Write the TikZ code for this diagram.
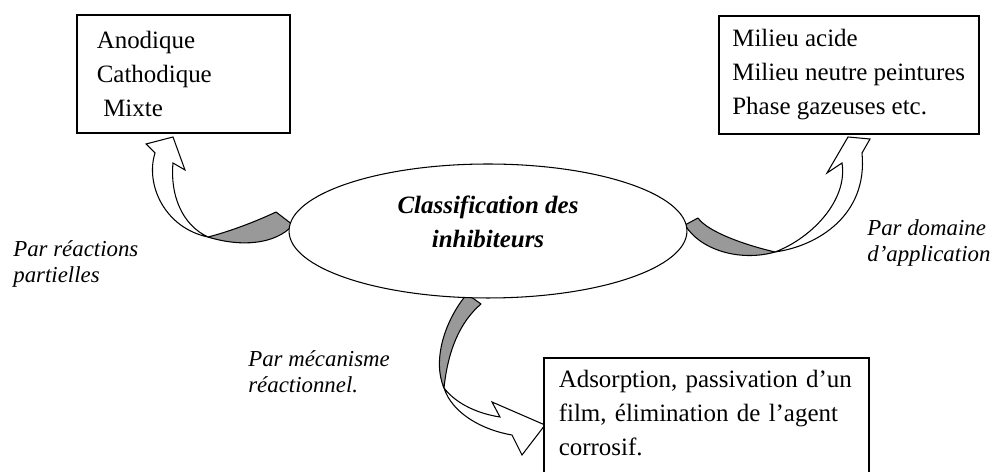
\documentclass[tikz,border=0pt]{standalone}
\usepackage{fontspec}
\setmainfont{Liberation Serif}
\usepackage{xcolor}
\definecolor{ribbonBack}{HTML}{999999}
\definecolor{ribbonFront}{HTML}{FFFFFF}
\usetikzlibrary{shapes.geometric}
\tikzset{
  frameBox/.style={draw, line width=0.9pt, fill=white, inner ysep=0pt, align=left,
    font=\fontsize{14.2}{19.3}\selectfont},
  sideLabel/.style={inner sep=0pt, anchor=base west, align=left,
    font=\itshape\fontsize{13}{15.3}\selectfont},
  backPart/.style={fill=ribbonBack, draw=black, line width=0.6pt, line join=round},
  frontPart/.style={fill=ribbonFront, draw=black, line width=0.6pt},
}

\begin{document}
\begin{tikzpicture}[x=0.02cm, y=-0.02cm]
  \useasboundingbox (0,0) rectangle (992,472);
  \clip (0,0) rectangle (992,472);
  % left arrow
  \filldraw[backPart] (208,237) .. controls (240,247) and (275,245) .. (293,225) -- (276,212) .. controls (255,222) and (228,232) .. cycle;
  \filldraw[frontPart] (155,153) -- (146,144) -- (173,137) -- (185,170) -- (173,163) .. controls (170,195) and (182,225) .. (208,237) .. controls (165,228) and (145,185) .. cycle;
  % right arrow
  \filldraw[backPart] (685,225) .. controls (700,250) and (740,262) .. (775,252) .. controls (745,245) and (708,232) .. (698,218) -- cycle;
  \filldraw[frontPart] (862,153) -- (870,139) -- (848,137) -- (827,173) -- (842,163) .. controls (848,200) and (812,238) .. (775,252) .. controls (818,246) and (868,215) .. cycle;
  % bottom arrow
  \filldraw[backPart] (467,294) .. controls (445,320) and (432,360) .. (444,388) .. controls (448,350) and (460,322) .. (481,304) -- cycle;
  \filldraw[frontPart] (512,435) -- (522,455) -- (545,425) -- (492,402) -- (500,417) .. controls (480,414) and (457,405) .. (444,388) .. controls (452,413) and (482,430) .. cycle;

  \node[draw, ellipse, line width=0.6pt, fill=white, minimum width=7.96cm, minimum height=2.68cm, inner sep=0pt] (classif) at (488,231) {};
  \node[inner sep=0pt, align=center, font=\bfseries\itshape\fontsize{14.2}{19.3}\selectfont] (classifText) at ([yshift=0.19cm]classif.center) {Classification des\\inhibiteurs};

  \node[frameBox, anchor=north west, text width=3.46cm, inner xsep=0.4cm, minimum height=2.36cm] (typeBox) at (76,14) {Anodique\\Cathodique\\\hspace*{0.26em}Mixte};
  \node[frameBox, anchor=north west, inner xsep=0pt, minimum width=5.2cm, minimum height=2.36cm] (milieuBox) at (718,15) {Milieu acide\\Milieu neutre peintures\\Phase gazeuses etc.};
  \node[frameBox, anchor=north west, text width=5.9cm, inner xsep=0.3cm, inner ysep=0.254cm, text depth=3cm] (mecaBox) at (543,357) {Adsorption, passivation d'un\\film, élimination de l'agent\\corrosif.};

  % base of the last line
  \node[sideLabel] (partLabel) at (13,283) {Par réactions\\partielles};
  \node[sideLabel] (domLabel) at (867,262) {Par domaine\\d'application};
  \node[sideLabel] (mecaLabel) at (248,393) {Par mécanisme\\réactionnel.};
\end{tikzpicture}
\end{document}
